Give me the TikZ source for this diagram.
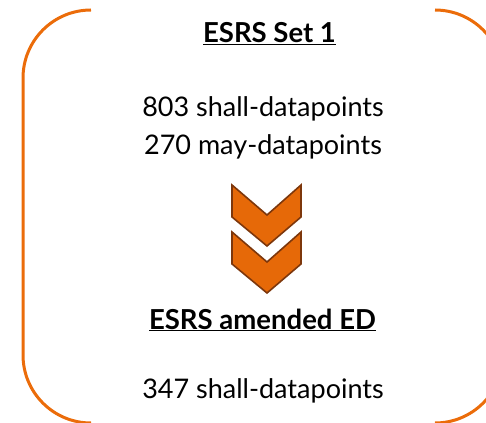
\documentclass[tikz,border=0pt]{standalone}
\usepackage{fontspec}
\setmainfont{Lato}
\definecolor{bracketorange}{RGB}{235,108,10}
\definecolor{chevfill}{RGB}{230,105,8}
\definecolor{chevedge}{RGB}{125,55,12}
\begin{document}
\begin{tikzpicture}[x=1pt,y=-1pt,
  bracketline/.style={draw=bracketorange,line width=3pt},
  chevron/.style={fill=chevfill,draw=chevedge,line width=1.6pt,line join=miter},
  headtxt/.style={font=\fontsize{27.5}{32}\selectfont\bfseries,inner sep=0pt,anchor=base},
  bodytxt/.style={font=\fontsize{27}{37}\selectfont,inner sep=0pt,anchor=base,align=center}]
\useasboundingbox (0,0) rectangle (486,422);
\begin{scope}
\clip (0,0) rectangle (486,422);
\draw[bracketline] (91,10) arc[start angle=270,end angle=180,radius=68] -- (23,355) arc[start angle=180,end angle=90,radius=68];
\draw[bracketline] (435,10) arc[start angle=270,end angle=360,radius=68] -- (503,355) arc[start angle=0,end angle=90,radius=68];
\end{scope}
\node[headtxt] (h1) at (269.5,43) {\underline{ESRS Set 1}};
\node[bodytxt] (b1) at (263,117) {803 shall-datapoints};
\node[bodytxt] (b2) at (263,154) {270 may-datapoints};
\draw[chevron] (232,185) -- (267,215) -- (301,185) -- (301,217) -- (267,246) -- (232,217) -- cycle;
\draw[chevron] (232,232) -- (267,262) -- (301,232) -- (301,264) -- (267,293) -- (232,264) -- cycle;
\node[headtxt] (h2) at (262.5,329) {\underline{ESRS amended ED}};
\node[bodytxt] (b3) at (263,398) {347 shall-datapoints};
\end{tikzpicture}
\end{document}
